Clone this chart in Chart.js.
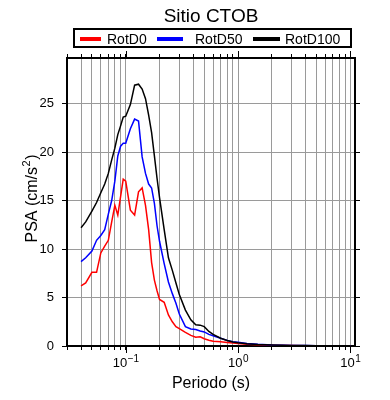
<!DOCTYPE html>
<html><head><meta charset="utf-8">
<script src="https://cdn.jsdelivr.net/npm/chart.js@4.4.1/dist/chart.umd.min.js"></script>
<style>html,body{margin:0;padding:0;background:#fff}#wrap{width:390px;height:400px}</style>
</head><body><div id="wrap"><canvas id="c" width="390" height="400"></canvas></div>
<script>
const chartTitle = 'Sitio CTOB';
const xTitle = 'Periodo (s)';
const yTitleParts = ['PSA (cm/s', '2', ')'];
const seriesNames = ['RotD0', 'RotD50', 'RotD100'];
const seriesColors = ['#ff0000', '#0000ff', '#000000'];
const periods = [0.04,0.044,0.05,0.055,0.06,0.065,0.07,0.075,0.08,0.085,
  0.09,0.095,0.1,0.11,0.12,0.13,0.14,0.15,0.16,0.17,
  0.18,0.19,0.2,0.22,0.24,0.26,0.28,0.3,0.34,0.38,
  0.42,0.46,0.5,0.55,0.6,0.7,0.8,0.9,1.0,1.2,
  1.5,2,3,4,5,7,10];
const rotD0 = [6.2,6.5,7.6,7.6,9.6,10.3,10.9,12.8,14.5,13.5,
  15.4,17.2,17.0,14.0,13.5,15.9,16.3,14.5,12.0,8.6,
  6.8,5.7,4.8,4.5,3.2,2.5,2.0,1.8,1.4,1.1,
  0.9,0.95,0.75,0.6,0.5,0.43,0.36,0.3,0.25,0.18,
  0.12,0.07,0.04,0.03,0.02,0.015,0.01];
const rotD50 = [8.7,9.1,9.8,10.9,11.4,12.0,13.6,15.0,17.0,19.6,
  20.6,20.9,20.9,22.4,23.4,23.2,19.5,17.8,16.7,16.3,
  14.7,12.4,10.8,8.5,6.6,5.4,4.4,3.3,2.0,1.75,
  1.7,1.55,1.45,1.2,1.05,0.8,0.58,0.45,0.38,0.27,
  0.18,0.11,0.06,0.04,0.03,0.02,0.015];
const rotD100 = [12.2,12.8,13.9,14.8,15.8,16.7,17.8,19.2,20.4,21.8,
  22.7,23.6,23.7,24.9,26.9,27.0,26.5,25.5,23.8,22.0,
  19.6,17.3,15.3,12.0,9.1,7.8,6.5,5.3,3.7,2.7,
  2.2,2.15,2.0,1.5,1.2,0.8,0.57,0.42,0.33,0.24,
  0.16,0.1,0.06,0.04,0.03,0.02,0.015];
const yTicks = [0, 5, 10, 15, 20, 25];
const xTicks = [0.03,0.04,0.05,0.06,0.07,0.08,0.09,
  0.1,0.2,0.3,0.4,0.5,0.6,0.7,0.8,0.9,
  1,2,3,4,5,6,7,8,9,10];
const xLabelValues = [0.1, 1, 10];
const xLabelExps = ['\u22121', '0', '1'];

const FONT = '"Liberation Sans", Arial, Helvetica, sans-serif';
const series = [rotD0, rotD50, rotD100];

const deco = {
  id: 'deco',
  afterDraw(chart) {
    const ctx = chart.ctx;
    const ca = chart.chartArea;
    ctx.save();
    ctx.fillStyle = '#000';
    ctx.textBaseline = 'alphabetic';
    // title
    ctx.font = '19px ' + FONT;
    ctx.textAlign = 'center';
    ctx.fillText(chartTitle, (ca.left + ca.right) / 2, 22);
    // legend
    ctx.lineWidth = 2;
    ctx.strokeStyle = '#000';
    ctx.strokeRect(74, 29, 277, 18);
    const itemPos = [[80, 101, 107], [157, 183, 195], [253, 280, 285]];
    ctx.font = '14px ' + FONT;
    ctx.textAlign = 'left';
    chart.data.datasets.forEach((ds) => {
      const p = itemPos[ds.legendIndex];
      ctx.strokeStyle = ds.borderColor;
      ctx.lineWidth = 4;
      ctx.beginPath();
      ctx.moveTo(p[0], 39); ctx.lineTo(p[1], 39);
      ctx.stroke();
      ctx.fillStyle = '#000';
      ctx.fillText(ds.label, p[2], 44);
    });
    // x tick labels with superscripts, and longer major ticks
    const xs = chart.scales.x;
    xLabelValues.forEach((v, i) => {
      const px = xs.getPixelForValue(v);
      ctx.strokeStyle = '#000';
      ctx.lineWidth = 1;
      ctx.beginPath();
      ctx.moveTo(Math.round(px) + 0.5, ca.top); ctx.lineTo(Math.round(px) + 0.5, ca.top - 7);
      ctx.moveTo(Math.round(px) + 0.5, ca.bottom); ctx.lineTo(Math.round(px) + 0.5, ca.bottom + 7);
      ctx.stroke();
      ctx.font = '13px ' + FONT;
      const w1 = ctx.measureText('10').width;
      ctx.font = '10px ' + FONT;
      const w2 = ctx.measureText(xLabelExps[i]).width;
      const x0 = px - (w1 + w2) / 2;
      ctx.font = '13px ' + FONT;
      ctx.fillText('10', x0, 367);
      ctx.font = '10px ' + FONT;
      ctx.fillText(xLabelExps[i], x0 + w1 + 0.5, 362);
    });
    // y axis title with superscript
    ctx.translate(31, (ca.top + ca.bottom) / 2 - 3);
    ctx.rotate(-Math.PI / 2);
    ctx.font = '16px ' + FONT;
    const a = ctx.measureText(yTitleParts[0]).width;
    const c = ctx.measureText(yTitleParts[2]).width;
    ctx.font = '11px ' + FONT;
    const b = ctx.measureText(yTitleParts[1]).width;
    let x = -(a + b + c) / 2;
    const base = 6;
    ctx.font = '16px ' + FONT;
    ctx.fillText(yTitleParts[0], x, base);
    ctx.font = '11px ' + FONT;
    ctx.fillText(yTitleParts[1], x + a + 0.5, base - 7);
    ctx.font = '16px ' + FONT;
    ctx.fillText(yTitleParts[2], x + a + b + 1, base);
    ctx.restore();
  }
};

const datasets = series.map((vals, i) => ({
  label: seriesNames[i],
  legendIndex: i,
  data: periods.map((p, j) => ({x: p, y: vals[j]})),
  borderColor: seriesColors[i],
  backgroundColor: seriesColors[i],
  borderWidth: 1.5,
  pointRadius: 0,
  tension: 0,
  fill: false,
  order: 2 - i
}));

const gridColor = '#9a9a9a';
const xCommon = {
  type: 'logarithmic',
  min: 0.03,
  max: 11,
  afterBuildTicks: s => { s.ticks = xTicks.map(v => ({value: v})); },
  border: {display: true, color: '#000', width: 2},
};

new Chart(document.getElementById('c'), {
  type: 'line',
  data: {datasets},
  plugins: [deco],
  options: {
    responsive: false,
    animation: false,
    devicePixelRatio: 1,
    layout: {padding: 0},
    plugins: {legend: {display: false}, title: {display: false}, tooltip: {enabled: false}},
    scales: {
      x: Object.assign({}, xCommon, {
        position: 'bottom',
        grid: {color: gridColor, lineWidth: 1, tickColor: '#000', tickLength: 4, drawTicks: true},
        ticks: {autoSkip: false, maxRotation: 0, callback: () => '', color: '#000'},
        title: {display: true, text: xTitle, color: '#000', font: {family: FONT, size: 16}, padding: {top: 0, bottom: 7}},
        afterFit: s => { s.height = 54; }
      }),
      xTop: Object.assign({}, xCommon, {
        position: 'top',
        grid: {drawOnChartArea: false, tickColor: '#000', tickLength: 4, drawTicks: true},
        ticks: {autoSkip: false, maxRotation: 0, callback: () => ''},
        afterFit: s => { s.height = 58; }
      }),
      y: {
        type: 'linear',
        position: 'left',
        min: 0,
        max: 29.7,
        afterBuildTicks: s => { s.ticks = yTicks.map(v => ({value: v})); },
        border: {display: true, color: '#000', width: 2},
        grid: {color: gridColor, lineWidth: 1, tickColor: '#000', tickLength: 5, drawTicks: true},
        ticks: {color: '#000', font: {family: FONT, size: 13}, padding: 8},
        title: {display: false},
        afterFit: s => { s.width = 67; }
      },
      yRight: {
        type: 'linear',
        position: 'right',
        min: 0,
        max: 29.7,
        afterBuildTicks: s => { s.ticks = yTicks.map(v => ({value: v})); },
        border: {display: true, color: '#000', width: 2},
        grid: {drawOnChartArea: false, tickColor: '#000', tickLength: 5, drawTicks: true},
        ticks: {display: false},
        afterFit: s => { s.width = 35; }
      }
    }
  }
});
</script>
</body></html>
